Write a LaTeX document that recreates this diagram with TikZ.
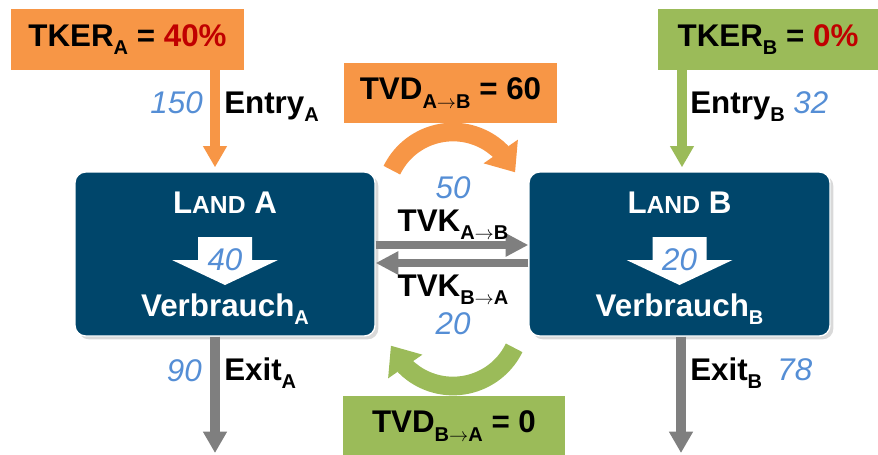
\documentclass[tikz,border=0pt]{standalone}
\usepackage{fontspec}
\setmainfont{Liberation Sans}
\usetikzlibrary{
  arrows.meta,
  bending,
  positioning,
  shadows
}
\definecolor{landblue}{HTML}{00466B}
\definecolor{flowgray}{HTML}{7F7F7F}
\definecolor{tvdorange}{HTML}{F79646}
\definecolor{tvdgreen}{HTML}{9BBB59}
\definecolor{valblue}{HTML}{558ED5}
\definecolor{ratered}{HTML}{C00000}
% lowered index after a flow name
\newcommand{\idx}[1]{\raisebox{-0.28em}{\fontsize{15}{15}\selectfont #1}}

\begin{document}
\begin{tikzpicture}[
    x=0.75pt, y=-0.75pt,
    every node/.style={font=\fontsize{23.5}{27}\selectfont\bfseries, inner sep=0pt},
    ratebox/.style={rectangle, minimum height=45.5pt, align=center},
    landbox/.style={rectangle, fill=landblue, draw=white, line width=1pt,
                 rounded corners=8pt, minimum width=225pt, minimum height=123pt,
                 drop shadow={shadow xshift=2.5pt, shadow yshift=-2.5pt, opacity=0.3}},
    value/.style={font=\fontsize{23.5}{27}\selectfont\itshape, text=valblue},
    flowarrow/.style={-{Triangle[length=16pt, width=17pt]}, line width=7pt},
    swaparrow/.style={-{Triangle[length=17pt, width=16.5pt]}, line width=5.5pt, flowgray},
    turnarrow/.style={-{Triangle[length=19pt, width=30pt]}, line width=14pt},
]
\useasboundingbox (0,0) rectangle (878,454);

% rate boxes
\node[ratebox, fill=tvdorange, minimum width=174.75pt] (kerA) at (127.5,39.5)
    {TKER\idx{A} = \textcolor{ratered}{40\%}};
\node[ratebox, fill=tvdgreen, minimum width=165pt] (kerB) at (768,39.5)
    {TKER\idx{B} = \textcolor{ratered}{0\%}};
\node[ratebox, fill=tvdorange, minimum width=160pt, minimum height=45pt] (tvdAB) at (450.5,93)
    {TVD\idx{A$\rightarrow$B} = 60};
\node[ratebox, fill=tvdgreen, minimum width=166.5pt, minimum height=45pt] (tvdBA) at (454,426)
    {TVD\idx{B$\rightarrow$A} = 0};

% the two countries
\node[landbox] (landA) at (225,254) {};
\node[landbox, minimum width=225.75pt] (landB) at (679.5,254) {};

\node[text=white, anchor=base] (titleA) at (225,213) {L{\fontsize{18.5}{22}\selectfont AND} A};
\node[text=white, anchor=base] (titleB) at (679.5,213) {L{\fontsize{18.5}{22}\selectfont AND} B};

% consumption arrows inside the boxes
\foreach \land in {A,B} {
  \fill[white, shift={(land\land.center)}]
    (-27,-17) -- (27,-17) -- (27,6) -- (53,6) -- (0,31) -- (-53,6) -- (-27,6) -- cycle;
}
\node[value] (useA) at ([yshift=-4.5pt]landA.center) {40};
\node[value] (useB) at ([yshift=-4.5pt]landB.center) {20};

\node[text=white, anchor=base] (verbA) at (225,316) {Verbrauch\idx{A}};
\node[text=white, anchor=base] (verbB) at (679.5,316) {Verbrauch\idx{B}};

% entries
\draw[flowarrow, tvdorange, shorten >=3pt] (kerA.south -| 215,0) -- (landA.north -| 215,0);
\draw[flowarrow, tvdgreen, shorten >=3pt] (kerB.south -| 682,0) -- (landB.north -| 682,0);

\node[value, anchor=base east] (entryValA) at (203,113) {150};
\node[anchor=base west] (entryA) at (224,113) {Entry\idx{A}};
\node[anchor=base west] (entryB) at (690,113) {Entry\idx{B}};
\node[value, anchor=base west] (entryValB) at ([xshift=6pt]entryB.base east) {32};

% exits
\coordinate (outA) at (215,453);
\coordinate (outB) at (681,453);
\draw[flowarrow, flowgray] (landA.south -| outA) -- (outA);
\draw[flowarrow, flowgray] (landB.south -| outB) -- (outB);

\node[value, anchor=base east] (exitValA) at (202,381) {90};
\node[anchor=base west] (exitA) at (224,380) {Exit\idx{A}};
\node[anchor=base west] (exitB) at (690,380) {Exit\idx{B}};
\node[value, anchor=base west] (exitValB) at ([xshift=11pt]exitB.base east) {78};

% trade between A and B
\draw[swaparrow] (landA.east |- 0,245) -- (landB.west |- 0,245);
\draw[swaparrow] (landB.west |- 0,263) -- (landA.east |- 0,263);

\node[value] (tvkValAB) at (453,188) {50};
\node[anchor=base] (tvkAB) at (453,231) {TVK\idx{A$\rightarrow$B}};
\node[anchor=base] (tvkBA) at (453,296) {TVK\idx{B$\rightarrow$A}};
\node[value] (tvkValBA) at (453,324) {20};

% transfer arcs
\coordinate (turnAB) at (453,200);
\coordinate (turnBA) at (453,318);
\draw[turnarrow, tvdorange] ([shift={(206:68)}]turnAB) arc[start angle=206, end angle=336, radius=68];
\draw[turnarrow, tvdgreen] ([shift={(26:68)}]turnBA) arc[start angle=26, end angle=156, radius=68];

\end{tikzpicture}
\end{document}
